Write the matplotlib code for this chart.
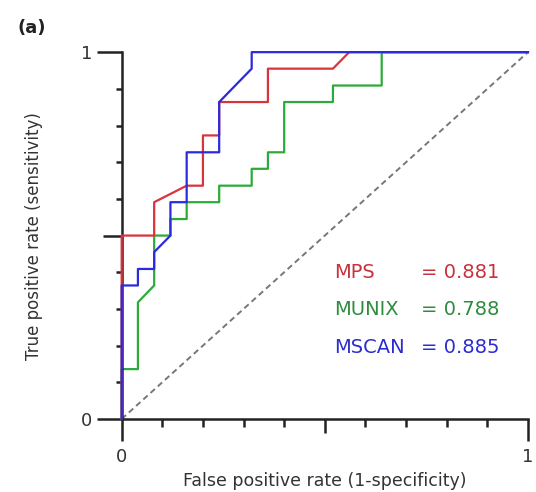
import matplotlib
matplotlib.use("Agg")
import matplotlib.pyplot as plt
import numpy as np

# ROC curve vertices
mps_fpr = [0, 0, 0.08, 0.08, 0.16, 0.20, 0.20, 0.24, 0.24, 0.36, 0.36, 0.52, 0.56, 1.0]
mps_tpr = [0, 0.5, 0.5, 0.591, 0.636, 0.636, 0.773, 0.773, 0.864, 0.864, 0.955, 0.955, 1.0, 1.0]

munix_fpr = [0, 0, 0.04, 0.04, 0.08, 0.08, 0.12, 0.12, 0.16, 0.16, 0.24, 0.24, 0.32, 0.32,
             0.36, 0.36, 0.40, 0.40, 0.52, 0.52, 0.64, 0.64, 1.0]
munix_tpr = [0, 0.136, 0.136, 0.318, 0.364, 0.5, 0.5, 0.545, 0.545, 0.591, 0.591, 0.636,
             0.636, 0.682, 0.682, 0.727, 0.727, 0.864, 0.864, 0.909, 0.909, 1.0, 1.0]

mscan_fpr = [0, 0, 0.04, 0.04, 0.08, 0.08, 0.12, 0.12, 0.16, 0.16, 0.24, 0.24, 0.32, 0.32, 1.0]
mscan_tpr = [0, 0.364, 0.364, 0.409, 0.409, 0.455, 0.5, 0.591, 0.591, 0.727, 0.727, 0.864,
             0.955, 1.0, 1.0]

names = ["MPS", "MUNIX", "MSCAN"]
aucs = [0.881, 0.788, 0.885]
colors = ["#d8343c", "#2eaa3a", "#2b2bdc"]
text_colors = ["#c8323c", "#2e8c3e", "#2c2cd0"]

fig = plt.figure(figsize=(5.36, 4.92), dpi=100)
ax = fig.add_axes([0.227, 0.1484, 0.758, 0.7456])

ax.plot([0, 1], [0, 1], color="#777777", lw=1.4, ls=(0, (3, 2)), clip_on=False, zorder=1)
ax.plot(munix_fpr, munix_tpr, color=colors[1], lw=1.6, clip_on=False, zorder=2)
ax.plot(mps_fpr, mps_tpr, color=colors[0], lw=1.6, clip_on=False, zorder=3)
ax.plot(mscan_fpr, mscan_tpr, color=colors[2], lw=1.6, clip_on=False, zorder=4)

ax.set_xlim(0, 1)
ax.set_ylim(0, 1)
for s in ["top", "right"]:
    ax.spines[s].set_visible(False)
for s in ["left", "bottom"]:
    ax.spines[s].set_linewidth(1.8)
    ax.spines[s].set_color("#222222")

ax.set_xticks([0, 0.5, 1])
ax.set_xticklabels(["0", "", "1"])
ax.set_yticks([0, 0.5, 1])
ax.set_yticklabels(["0", "", "1"])
ax.set_xticks(np.arange(0.1, 1.0, 0.1), minor=True)
ax.set_yticks(np.arange(0.1, 1.0, 0.1), minor=True)
ax.tick_params(axis="x", which="major", length=16, width=1.8, pad=5, labelsize=13,
               colors="#222222", labelcolor="#333333")
ax.tick_params(axis="y", which="major", length=18, width=1.8, pad=3, labelsize=13,
               colors="#222222", labelcolor="#333333")
ax.tick_params(axis="x", which="minor", length=5.5, width=1.8, colors="#222222")
ax.tick_params(axis="y", which="minor", length=4.5, width=1.8, colors="#222222")
ax.xaxis.get_major_ticks()[1].tick1line.set_markersize(10)
ax.yaxis.get_major_ticks()[1].tick1line.set_markersize(13.5)

ax.set_xlabel("False positive rate (1-specificity)", fontsize=12.5, color="#333333", va="center")
ax.xaxis.set_label_coords(0.5, -0.169)
ax.set_ylabel("True positive rate (sensitivity)", fontsize=12, color="#333333", va="center")
ax.yaxis.set_label_coords(-0.216, 0.5)

ys = [0.4, 0.298, 0.196]
for n, a, c, y in zip(names, aucs, text_colors, ys):
    ax.text(0.524, y, n, color=c, fontsize=14, va="center", transform=ax.transAxes)
    ax.text(0.737, y, "= %.3f" % a, color=c, fontsize=14, va="center", transform=ax.transAxes)

fig.text(0.032, 0.944, "(a)", fontsize=13, fontweight="bold", color="#222222", va="center")

fig.savefig("out.png", dpi=100)
